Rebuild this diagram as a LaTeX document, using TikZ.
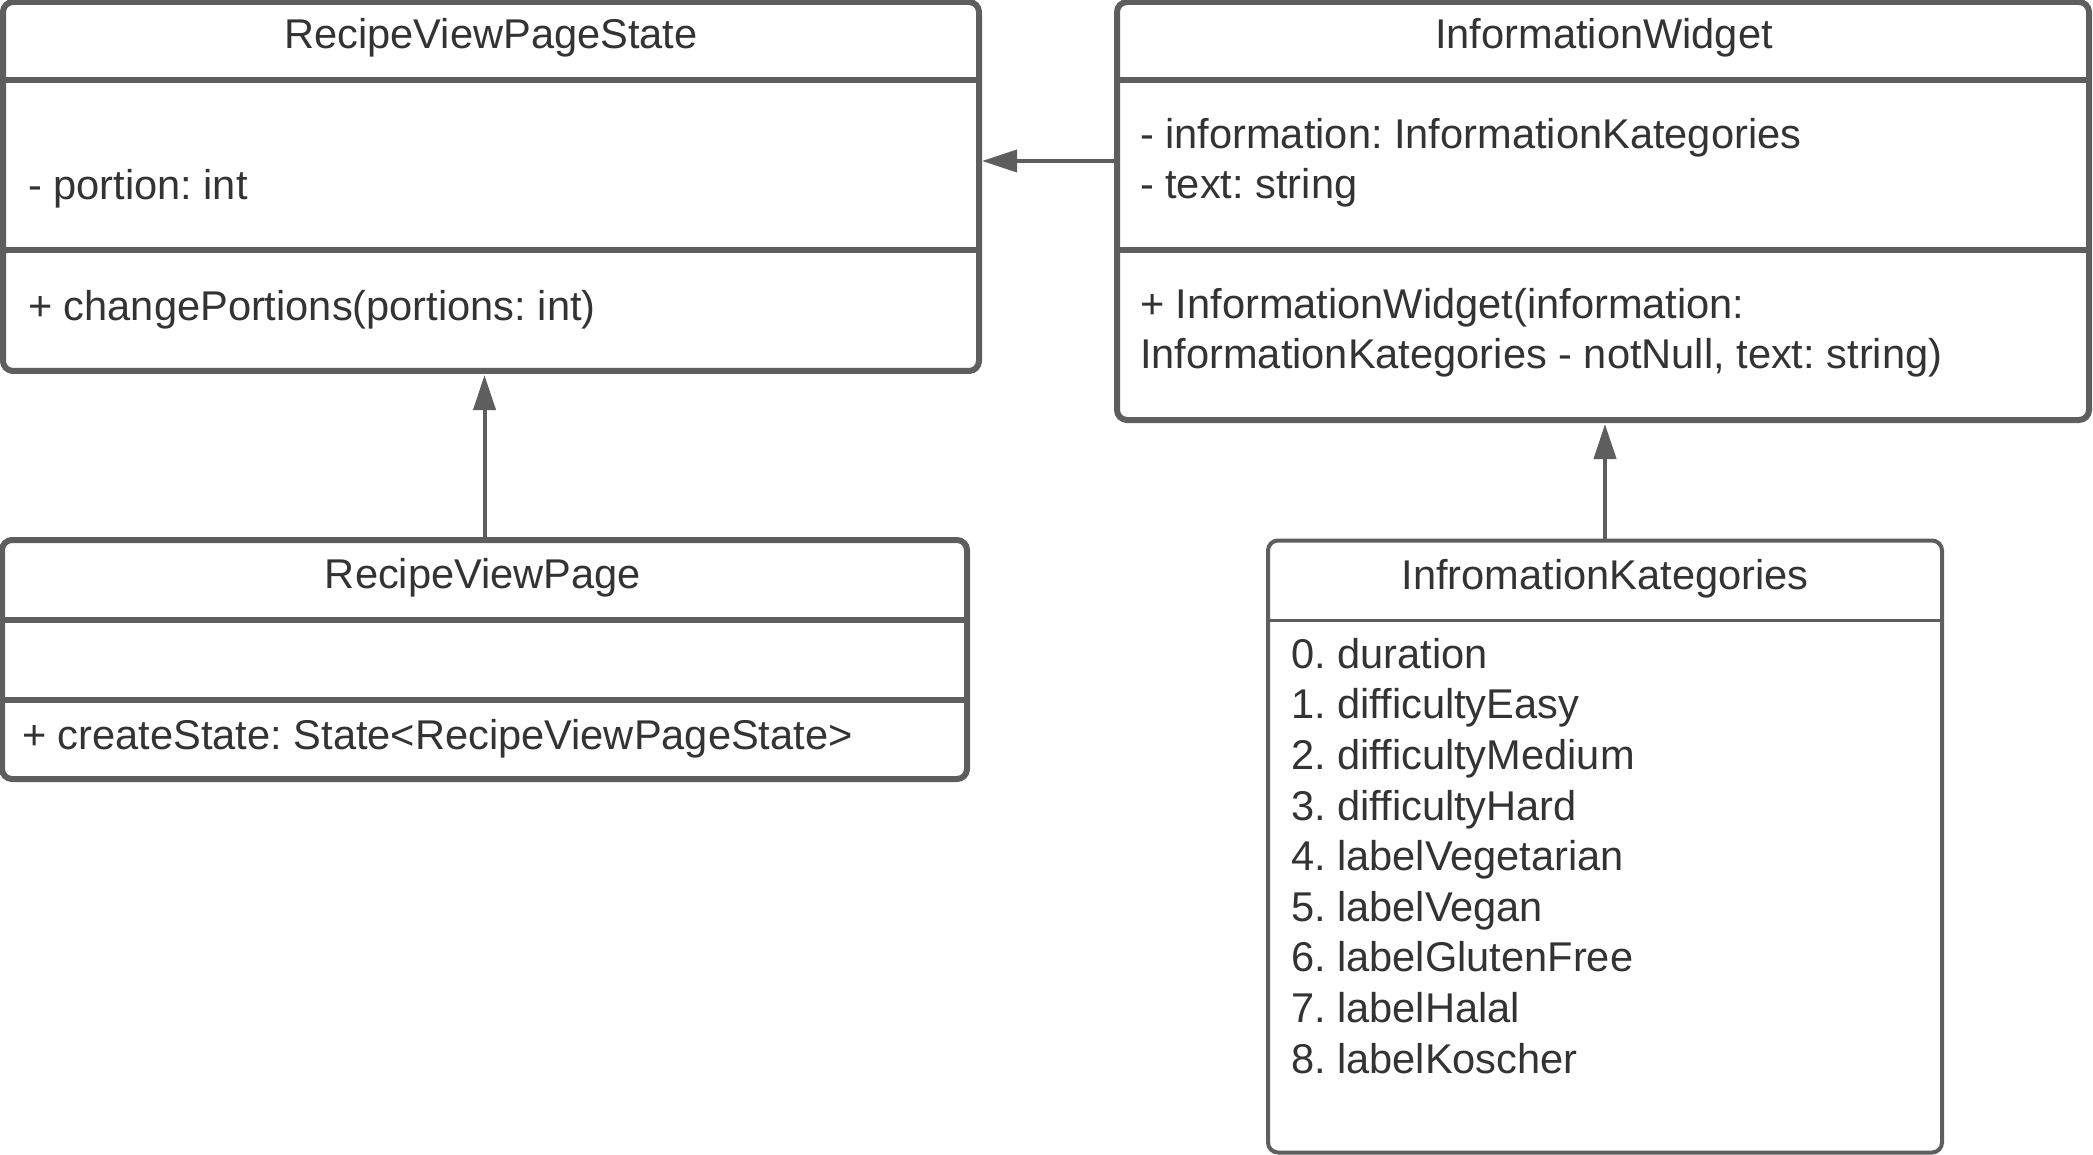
\documentclass[tikz,border=0pt]{standalone}
\usepackage{fontspec}
\setmainfont{Liberation Sans}
\usetikzlibrary{arrows.meta,calc}
\definecolor{lc}{HTML}{5E5E5E}
\definecolor{tc}{HTML}{333333}
\frenchspacing
\begin{document}
\begin{tikzpicture}[x=1pt,y=-1pt,
  umlbox/.style={draw=lc, line width=6pt, rounded corners=10pt, fill=white, inner sep=0pt, outer sep=0pt, anchor=north west},
  thinbox/.style={umlbox, line width=4pt},
  divider/.style={draw=lc, line width=5.5pt},
  thindivider/.style={draw=lc, line width=3.5pt},
  txt/.style={text=tc, inner sep=0pt, outer sep=0pt, font=\frenchspacing\fontsize{41.6}{50.6}\selectfont, anchor=base west, align=left},
  ttl/.style={txt, anchor=base},
  arr/.style={draw=lc, line width=4pt, -{Triangle[length=35pt,width=22pt]}}
]
\useasboundingbox (0,0) rectangle (2093,1155);

% RecipeViewPageState
\node[umlbox, minimum width=976pt, minimum height=369pt] (rvps) at (3,2) {};
\draw[divider] ([yshift=-78pt]rvps.north west) -- ([yshift=-78pt]rvps.north east);
\draw[divider] ([yshift=-248pt]rvps.north west) -- ([yshift=-248pt]rvps.north east);
\node[ttl] (rvpsT) at (491,49) {RecipeViewPageState};
\node[txt] (rvpsA) at (28,200) {- portion: int};
\node[txt] (rvpsM) at (28,321) {+ changePortions(portions: int)};

% InformationWidget
\node[umlbox, minimum width=972pt, minimum height=418pt] (iw) at (1117,2) {};
\draw[divider] ([yshift=-78pt]iw.north west) -- ([yshift=-78pt]iw.north east);
\draw[divider] ([yshift=-248pt]iw.north west) -- ([yshift=-248pt]iw.north east);
\node[ttl] (iwT) at (1604,49) {InformationWidget};
\node[txt] (iwA) at (1140,199) {- information: InformationKategories\\- text: string};
\node[txt] (iwM) at (1140,369) {+ InformationWidget(information:\\InformationKategories - notNull, text: string)};

% RecipeViewPage
\node[umlbox, minimum width=965pt, minimum height=239pt] (rvp) at (2,540) {};
\draw[divider] ([yshift=-80pt]rvp.north west) -- ([yshift=-80pt]rvp.north east);
\draw[divider] ([yshift=-160pt]rvp.north west) -- ([yshift=-160pt]rvp.north east);
\node[ttl] (rvpT) at (483,588) {RecipeViewPage};
\node[txt] (rvpM) at (22,749) {+ createState: State<RecipeViewPageState>};

% InfromationKategories
\node[thinbox, minimum width=674pt, minimum height=612pt] (ik) at (1268,540.5) {};
\draw[thindivider] ([yshift=-80pt]ik.north west) -- ([yshift=-80pt]ik.north east);
\node[ttl] (ikT) at (1605,589) {InfromationKategories};
\node[txt] (ikL) at (1291,1073) {0. duration\\1. difficultyEasy\\2. difficultyMedium\\3. difficultyHard\\4. labelVegetarian\\5. labelVegan\\6. labelGlutenFree\\7. labelHalal\\8. labelKoscher};

% connectors
\draw[arr] ([yshift=-159pt]iw.north west) -- ([yshift=-159pt,xshift=3pt]rvps.north east);
\draw[arr] (rvp.north) -- ($(rvp.north |- rvps.south)+(0,4)$);
\draw[arr] (ik.north) -- ($(ik.north |- iw.south)+(0,4)$);
\end{tikzpicture}
\end{document}
